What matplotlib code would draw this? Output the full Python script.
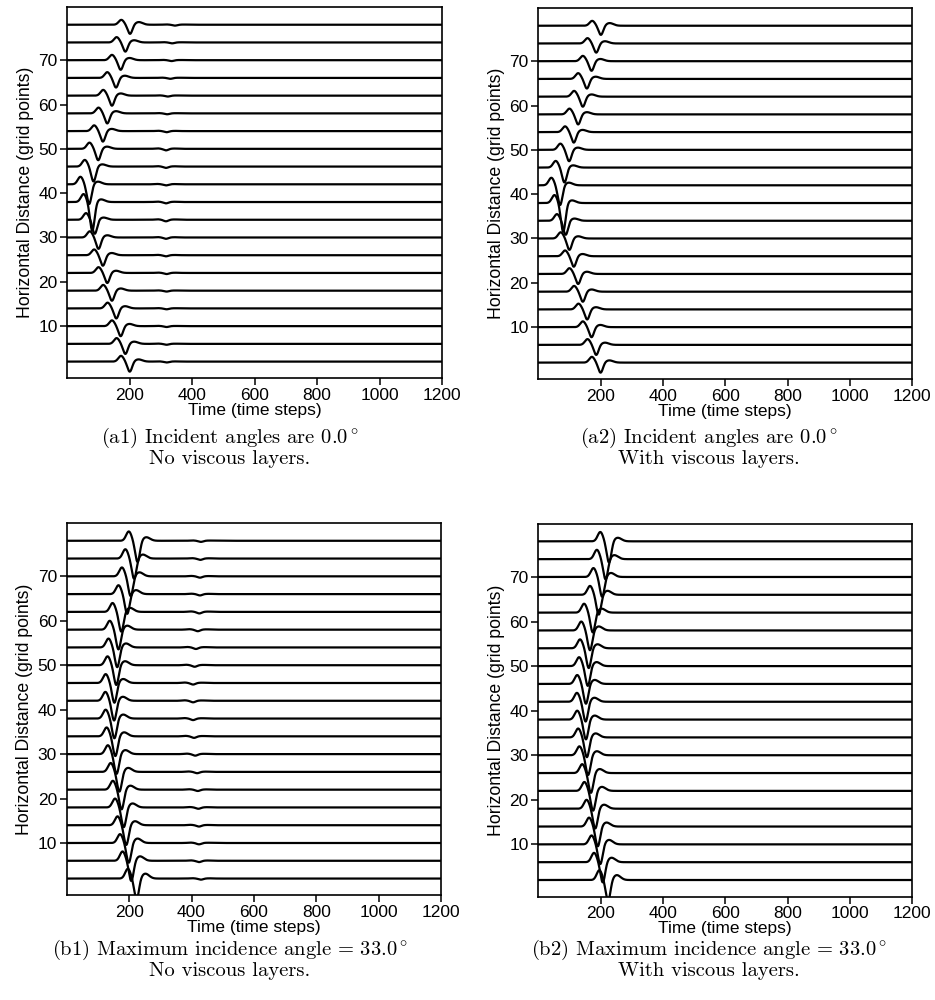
import numpy as np
import matplotlib.pyplot as plt

plt.rcParams['font.family'] = ['Liberation Sans', 'DejaVu Sans']
plt.rcParams['mathtext.fontset'] = 'cm'

# receiver positions (grid points), bottom to top
offsets = [2, 6, 10, 14, 18, 22, 26, 30, 34, 38, 42, 46, 50, 54, 58, 62, 66, 70, 74, 78]

# trough time of the main arrival (time steps) for every trace
a_trough = [200, 186, 171, 157, 143, 128, 114, 100, 88, 80, 70, 84, 99, 114, 128, 143, 156, 171, 186, 201]
b_trough = [224, 207, 199, 191, 183, 176, 169, 160, 156, 153, 152, 153, 159, 162, 166, 175, 194, 205, 216, 227]

# lobe sizes (grid points): leading bump, trough, trailing bump
a_up = [1.3, 1.3, 1.3, 1.3, 1.3, 1.3, 1.3, 1.4, 1.5, 1.8, 1.7, 1.5, 1.4, 1.3, 1.3, 1.3, 1.3, 1.2, 1.2, 1.1]
a_down = [2.3, 2.3, 2.3, 2.3, 2.3, 2.3, 2.4, 2.6, 3.2, 6.5, 4.5, 3.4, 2.6, 2.4, 2.3, 2.3, 2.2, 2.2, 2.1, 2.1]
a_post = [0.5, 0.5, 0.5, 0.5, 0.5, 0.5, 0.5, 0.5, 0.5, 0.6, 0.6, 0.5, 0.5, 0.5, 0.5, 0.5, 0.5, 0.5, 0.5, 0.6]
b_up = [2.2, 2.1, 2.0, 2.0, 2.0, 2.0, 2.0, 2.0, 2.0, 2.0, 2.0, 2.0, 2.0, 2.0, 2.0, 2.0, 2.0, 2.0, 2.1, 2.1]
b_down = [4.8, 4.6, 4.5, 4.5, 4.5, 4.5, 4.5, 4.5, 4.5, 4.5, 4.5, 4.5, 4.5, 4.5, 4.5, 4.5, 4.5, 4.5, 4.6, 4.8]
b_post = [1.1, 1.0, 1.0, 0.9, 0.9, 0.9, 0.9, 0.9, 0.9, 0.9, 0.9, 0.9, 0.9, 0.9, 0.9, 0.9, 0.9, 0.9, 0.9, 0.8]

# boundary reflections seen without the viscous layers: time and size
a_refl_t = [318, 318, 318, 318, 318, 318, 316, 316, 316, 316, 316, 316, 316, 318, 320, 322, 330, 334, 336, 345]
a_refl_amp = [0.2, 0.2, 0.2, 0.2, 0.2, 0.25, 0.25, 0.3, 0.35, 0.3, 0.25, 0.3, 0.35, 0.25, 0.2, 0.2, 0.2, 0.2, 0.2, 0.2]
b_refl_t = [430, 424, 424, 424, 422, 420, 418, 412, 408, 405, 405, 405, 410, 414, 420, 425, 427, 427, 428, 430]
b_refl_amp = [0.25, 0.3, 0.3, 0.3, 0.3, 0.3, 0.3, 0.35, 0.35, 0.35, 0.35, 0.35, 0.35, 0.35, 0.35, 0.35, 0.3, 0.3, 0.3, 0.25]

x_ticks = [200, 400, 600, 800, 1000, 1200]
y_ticks = [10, 20, 30, 40, 50, 60, 70]

captions = [
    ('(a1) Incident angles are $0.0^\\circ$', 'No viscous layers.'),
    ('(a2) Incident angles are $0.0^\\circ$', 'With viscous layers.'),
    ('(b1) Maximum incidence angle = $33.0^\\circ$', 'No viscous layers.'),
    ('(b2) Maximum incidence angle = $33.0^\\circ$', 'With viscous layers.'),
]

t = np.linspace(0, 1200, 2401)


def wavelet(tc, up, down, post):
    return (up * np.exp(-((t - tc + 28) / 12.0) ** 2)
            - down * np.exp(-((t - tc) / 10.5) ** 2)
            + post * np.exp(-((t - tc - 28) / 17.0) ** 2))


def draw_panel(ax, trough, up, down, post, refl_t=None, refl_amp=None):
    for i, y0 in enumerate(offsets):
        trace = wavelet(trough[i], up[i], down[i], post[i])
        if refl_t is not None:
            trace = trace + wavelet(refl_t[i], 0.3 * refl_amp[i], refl_amp[i], 0.2 * refl_amp[i])
        ax.plot(t, y0 + trace, color='black', lw=1.6)
    ax.set_xlim(0, 1200)
    ax.set_ylim(-1.7, 82)
    ax.set_xticks(x_ticks)
    ax.set_yticks(y_ticks)
    ax.tick_params(direction='out', length=5, width=1.1, labelsize=12.5, pad=2)
    for s in ax.spines.values():
        s.set_linewidth(1.2)
    ax.set_xlabel('Time (time steps)', fontsize=12.5, labelpad=0)
    ax.set_ylabel('Horizontal Distance (grid points)', fontsize=12.7, labelpad=3)


fig = plt.figure(figsize=(9.35, 10), dpi=100)
ax_a1 = fig.add_axes([0.072, 0.622, 0.4007, 0.371])
ax_a2 = fig.add_axes([0.5757, 0.621, 0.4, 0.371])
ax_b1 = fig.add_axes([0.0713, 0.105, 0.4007, 0.372])
ax_b2 = fig.add_axes([0.5757, 0.1035, 0.4, 0.373])

draw_panel(ax_a1, a_trough, a_up, a_down, a_post, a_refl_t, a_refl_amp)
draw_panel(ax_a2, a_trough, a_up, a_down, a_post)
draw_panel(ax_b1, b_trough, b_up, b_down, b_post, b_refl_t, b_refl_amp)
draw_panel(ax_b2, b_trough, b_up, b_down, b_post)

cap_x = [0.246, 0.758, 0.246, 0.758]
cap_y = [0.562, 0.562, 0.050, 0.050]
for (l1, l2), cx, cy in zip(captions, cap_x, cap_y):
    fig.text(cx, cy, l1, ha='center', va='center', family='cmr10', fontsize=14.8)
    fig.text(cx, cy - 0.0215, l2, ha='center', va='center', family='cmr10', fontsize=14.8)

fig.savefig('out.png', dpi=100)
